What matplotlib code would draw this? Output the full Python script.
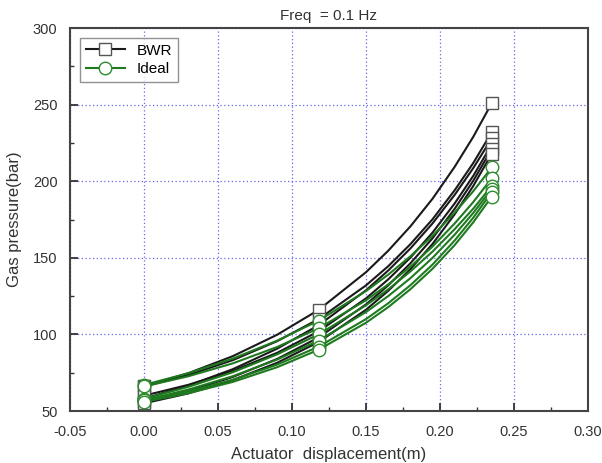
import numpy as np
import matplotlib.pyplot as plt
from matplotlib.ticker import MultipleLocator

plt.rcParams['font.family'] = ['Liberation Sans', 'DejaVu Sans']

# displacement samples (markers at 0, 0.118, 0.235)
x = [0.0, 0.03, 0.06, 0.09, 0.118, 0.15, 0.165, 0.18, 0.195, 0.21, 0.2225, 0.235]

# gas pressure (bar)
bwr = [
    [66, 74.7, 85.8, 99.8, 116, 140.6, 154.6, 170.5, 188.6, 209.5, 229.0, 251],
    [66, 73.5, 83.2, 95.6, 110, 132.0, 144.5, 158.9, 175.2, 194.2, 211.9, 232],
    [58, 66.6, 77.3, 90.7, 106, 128.8, 141.7, 156.1, 172.5, 191.2, 208.6, 228],
    [60, 67.1, 76.2, 88.0, 102, 123.5, 135.9, 150.1, 166.5, 185.6, 203.5, 224],
    [56, 63.1, 72.2, 84.0, 98, 119.6, 132.0, 146.4, 162.8, 182.1, 200.3, 221],
    [55, 61.5, 70.2, 81.5, 95, 116.1, 128.4, 142.6, 159.1, 178.5, 196.9, 218],
]
ideal = [
    [67, 74.7, 84.2, 95.9, 109, 128.3, 139.0, 151.0, 164.4, 179.6, 193.5, 209],
    [66, 72.7, 81.1, 91.8, 104, 122.3, 132.6, 144.2, 157.4, 172.5, 186.4, 202],
    [58, 65.8, 75.3, 87.0, 100, 119.0, 129.4, 141.1, 154.1, 168.8, 182.1, 197],
    [57, 64.0, 72.7, 83.6, 96, 114.6, 125.0, 136.7, 150.0, 165.2, 179.3, 195],
    [57, 62.8, 70.4, 80.3, 92, 110.0, 120.3, 132.1, 145.6, 161.4, 176.2, 193],
    [56, 61.6, 69.0, 78.6, 90, 107.6, 117.8, 129.5, 142.9, 158.4, 173.2, 190],
]
marks = [0, 4, 11]

fig = plt.figure(figsize=(6.02, 4.63), dpi=100)
ax = fig.add_axes([0.1163, 0.1123, 0.8604, 0.8272])

for i, p in enumerate(bwr):
    ax.plot(x, p, color='#1a1a1a', lw=1.5, marker='s', ms=9, mfc='white',
            mec='#555555', mew=1.0, markevery=marks,
            label='BWR' if i == 0 else None, zorder=3)
for i, p in enumerate(ideal):
    ax.plot(x, p, color='#1f7a1f', lw=1.5, marker='o', ms=9, mfc='white',
            mec='#2e8b2e', mew=1.0, markevery=marks,
            label='Ideal' if i == 0 else None, zorder=4)

ax.set_xlim(-0.05, 0.30)
ax.set_ylim(50, 300)
ax.xaxis.set_major_locator(MultipleLocator(0.05))
ax.xaxis.set_minor_locator(MultipleLocator(0.025))
ax.yaxis.set_major_locator(MultipleLocator(50))
ax.yaxis.set_minor_locator(MultipleLocator(25))
ax.xaxis.set_major_formatter(plt.FuncFormatter(lambda v, _: f"{v:.2f}"))

ax.tick_params(which='both', direction='in', colors='#333333', labelsize=10.5,
               top=False, right=False)
ax.tick_params(which='major', length=6, width=1.3)
ax.tick_params(axis='x', which='major', pad=10)
ax.tick_params(axis='y', which='major', pad=9)
ax.tick_params(which='minor', length=3, width=1.0)
for s in ax.spines.values():
    s.set_linewidth(1.5)
    s.set_color('#444444')

ax.grid(True, which='major', color='#6666ee', ls=(0, (1, 2)), lw=0.9)
ax.set_axisbelow(True)

ax.set_title('Freq  = 0.1 Hz', fontsize=11, color='#333333', pad=6)
ax.set_ylabel('Gas pressure(bar)', fontsize=12, color='#333333', labelpad=8)
ax.set_xlabel('Actuator  displacement(m)', fontsize=12, color='#333333',
              labelpad=6)

leg = ax.legend(loc='upper left', fontsize=11, frameon=True, fancybox=False,
                edgecolor='#777777', handlelength=2.5, borderpad=0.4,
                labelspacing=0.3, bbox_to_anchor=(0.005, 0.995))
leg.get_frame().set_linewidth(1.0)

fig.savefig('out.png', dpi=100)
